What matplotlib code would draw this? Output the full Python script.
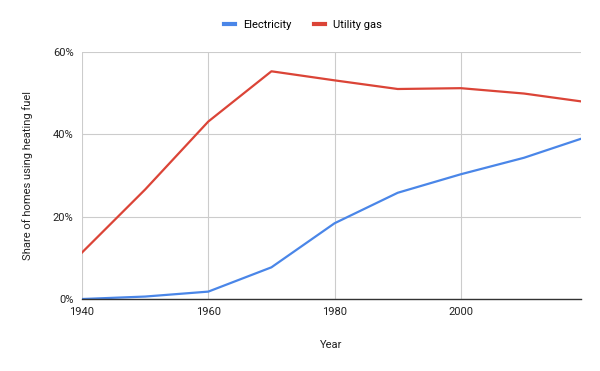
import matplotlib.pyplot as plt
from matplotlib.ticker import FuncFormatter

plt.rcParams['font.family'] = ['Roboto', 'DejaVu Sans']

years = [1940, 1950, 1960, 1970, 1980, 1990, 2000, 2010, 2019]
electricity = [0.0, 0.6, 1.8, 7.7, 18.4, 25.8, 30.3, 34.3, 38.9]
utility_gas = [11.3, 26.6, 43.1, 55.3, 53.1, 51.0, 51.2, 49.9, 48.0]

fig = plt.figure(figsize=(6, 3.71), dpi=100)
ax = fig.add_axes([0.1367, 0.194, 0.8313, 0.666])

ax.plot(years, electricity, color='#4a86e8', lw=1.6, label='Electricity')
ax.plot(years, utility_gas, color='#db4437', lw=1.6, label='Utility gas')

ax.set_xlim(1940, 2019)
ax.set_ylim(0, 60)
ax.set_xticks([1940, 1960, 1980, 2000])
ax.set_yticks([0, 20, 40, 60])
ax.yaxis.set_major_formatter(FuncFormatter(lambda v, p: f'{v:.0f}%'))

ax.grid(True, color='#cccccc', lw=0.8)
ax.set_axisbelow(True)
for s in ['top', 'right', 'left']:
    ax.spines[s].set_visible(False)
ax.spines['bottom'].set_color('#333333')
ax.spines['bottom'].set_linewidth(1.0)
ax.tick_params(length=0, labelsize=8, colors='#222222', pad=6)

ax.set_xlabel('Year', fontsize=8, color='#222222', labelpad=16)
ax.set_ylabel('Share of homes using heating fuel', fontsize=8, color='#222222', labelpad=14)

leg = fig.legend(loc='center', bbox_to_anchor=(0.505, 0.933), ncol=2, frameon=False,
                 fontsize=8, handlelength=1.0, handletextpad=0.7, columnspacing=2.0)
for line in leg.get_lines():
    line.set_linewidth(3)

fig.savefig('out.png', dpi=100)
